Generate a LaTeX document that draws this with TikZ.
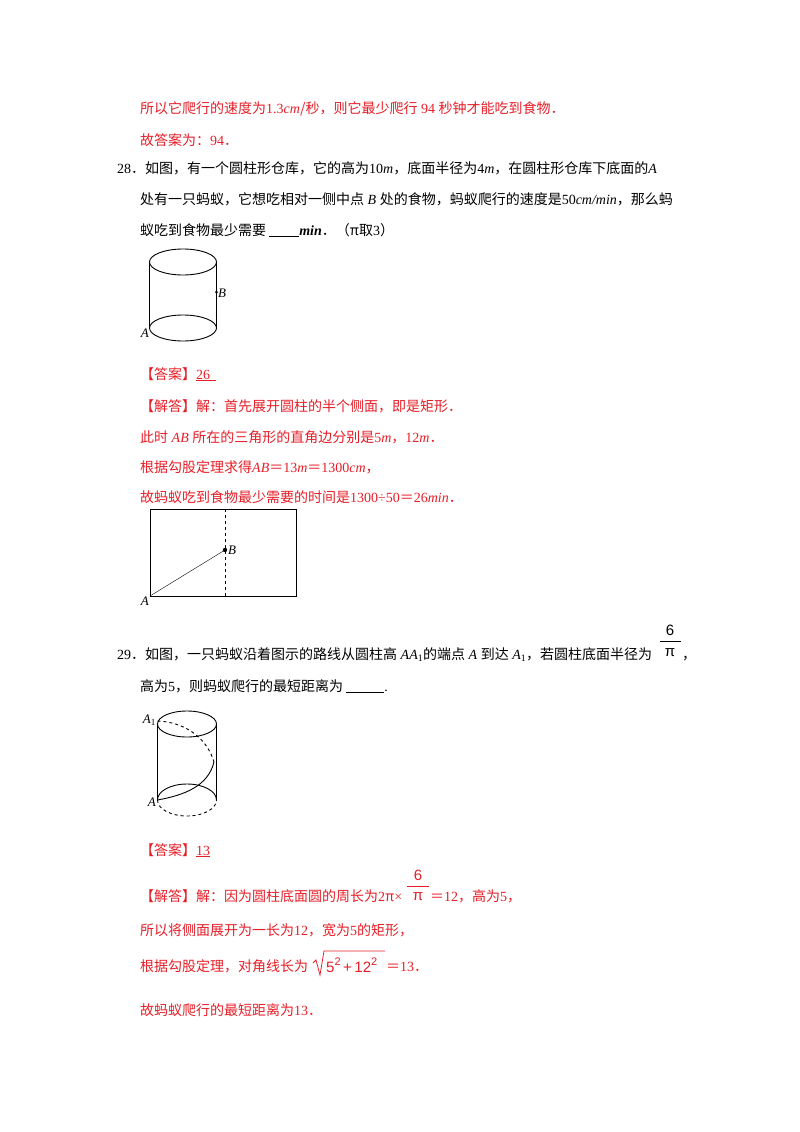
\documentclass[tikz,border=0pt]{standalone}
\usepackage{fontspec}
\setmainfont{Noto Sans CJK SC}
\newfontfamily\ser{Liberation Serif}
\newfontfamily\sans{Liberation Sans}
\newcommand{\mi}[1]{{\ser\itshape #1}}
\newcommand{\nm}[1]{{\ser #1}}
\definecolor{ans}{RGB}{230,30,40}
\begin{document}
\begin{tikzpicture}[x=1pt,y=-1pt,
  txt/.style={anchor=base west,inner sep=0pt,font=\fontsize{14}{16}\selectfont},
  red/.style={txt,text=ans},
  lbl/.style={inner sep=1pt,font=\ser\itshape\fontsize{13}{13}\selectfont},
  frac/.style={inner sep=0pt,font=\sans\fontsize{15}{15}\selectfont},
  fig/.style={line width=0.9pt}]
\useasboundingbox (0,0) rectangle (800,1132);
\node[red] (l1) at (140,113) {所以它爬行的速度为\nm{1.3}\mi{cm}/秒，则它最少爬行\nm{ 94 }秒钟才能吃到食物．};
\node[red] (l2) at (140,145) {故答案为：\nm{94}．};
\node[txt] (q1) at (117,173) {\nm{28}．如图，有一个圆柱形仓库，它的高为\nm{10}\mi{m}，底面半径为\nm{4}\mi{m}，在圆柱形仓库下底面的\mi{A}};
\node[txt] (q2) at (140,204) {处有一只蚂蚁，它想吃相对一侧中点\mi{ B }处的食物，蚂蚁爬行的速度是\nm{50}\mi{cm/min}，那么蚂};
\node[txt] (q3) at (140,235) {蚁吃到食物最少需要 \underline{\hspace{30pt}}\mi{\bfseries min}．（π取\nm{3}）};
% cylinder 1
\draw[fig] (183,262) ellipse (33.5 and 13);
\draw[fig] (183,328) ellipse (33.5 and 13);
\draw[fig] (149.5,262) -- (149.5,328);
\draw[fig] (216.5,262) -- (216.5,328);
\fill (216.5,292) circle (1.5);
\node[lbl,anchor=west] (b1) at (217,293) {B};
\node[lbl,anchor=east] (a1) at (150,333) {A};
\node[red] (an1) at (140,379) {【答案】\underline{\nm{26}\hspace{6pt}}};
\node[red] (s1) at (140,411) {【解答】解：首先展开圆柱的半个侧面，即是矩形．};
\node[red] (s2) at (140,442) {此时\mi{ AB }所在的三角形的直角边分别是\nm{5}\mi{m}，\nm{12}\mi{m}．};
\node[red] (s3) at (140,472) {根据勾股定理求得\mi{AB}＝\nm{13}\mi{m}＝\nm{1300}\mi{cm}，};
\node[red] (s4) at (140,502) {故蚂蚁吃到食物最少需要的时间是\nm{1300÷50}＝\nm{26}\mi{min}．};
% rectangle
\draw[line width=1pt] (150,509) rectangle (296,596);
\draw[dashed] (225,509) -- (225,596);
\coordinate (pa) at (150,596);
\coordinate (pb) at (225,550);
\draw (pa) -- (pb);
\fill (pb) circle (2.2);
\node[lbl,anchor=west] (b2) at (227,550) {B};
\node[lbl,anchor=east] (a2) at (150,601) {A};
\node[txt] (q4) at (117,659) {\nm{29}．如图，一只蚂蚁沿着图示的路线从圆柱高\mi{ AA}\nm{\textsubscript{1}}的端点\mi{ A }到达\mi{ A}\nm{\textsubscript{1}}，若圆柱底面半径为};
\node[frac] (f6) at (670,630) {6};
\draw (660,641) -- (681,641);
\node[frac] (fpi) at (670,653) {π};
\node[txt] (cm) at (682,659) {，};
\node[txt] (q5) at (140,691) {高为\nm{5}，则蚂蚁爬行的最短距离为 \underline{\hspace{38pt}}\nm{.}};
% cylinder 2
\draw[fig] (187,724) ellipse (29.5 and 13);
\draw[fig] (157.5,724) -- (157.5,800);
\draw[fig] (216.5,724) -- (216.5,800);
\draw[fig] (157.5,800) arc (180:360:29.5 and 16);
\draw[fig,dashed] (157.5,800) arc (180:0:29.5 and 16);
\draw[fig,dashed] (157.5,721) .. controls (185,722) and (207,738) .. (214,762);
\draw[fig] (214,762) .. controls (208,786) and (185,795) .. (157.5,800);
\node[lbl,anchor=east] (a1n) at (157,720) {A\textsubscript{\upshape 1}};
\node[lbl,anchor=east] (a3) at (157,802) {A};
\node[red] (an2) at (140,855) {【答案】\underline{\nm{13}}};
\node[red] (s5) at (140,901) {【解答】解：因为圆柱底面圆的周长为\nm{2}π\nm{×}};
\node[frac,text=ans] (g6) at (418,875) {6};
\draw[ans] (407,886) -- (429,886);
\node[frac,text=ans] (gpi) at (418,897) {π};
\node[red] (s5b) at (430,901) {＝\nm{12}，高为\nm{5}，};
\node[red] (s6) at (140,935) {所以将侧面展开为一长为\nm{12}，宽为\nm{5}的矩形，};
\node[red] (s7) at (140,971) {根据勾股定理，对角线长为};
\draw[ans,line width=0.8pt] (313,963) -- (316,960) -- (320,975) -- (324,951) -- (385,951);
\node[red,font=\sans\fontsize{15}{16}\selectfont] (rad) at (326,972) {5\raisebox{7pt}{\fontsize{11}{11}\selectfont 2}\,+\,12\raisebox{7pt}{\fontsize{11}{11}\selectfont 2}};
\node[red] (s7b) at (386,971) {＝\nm{13}．};
\node[red] (s8) at (140,1015) {故蚂蚁爬行的最短距离为\nm{13}．};
\end{tikzpicture}
\end{document}
